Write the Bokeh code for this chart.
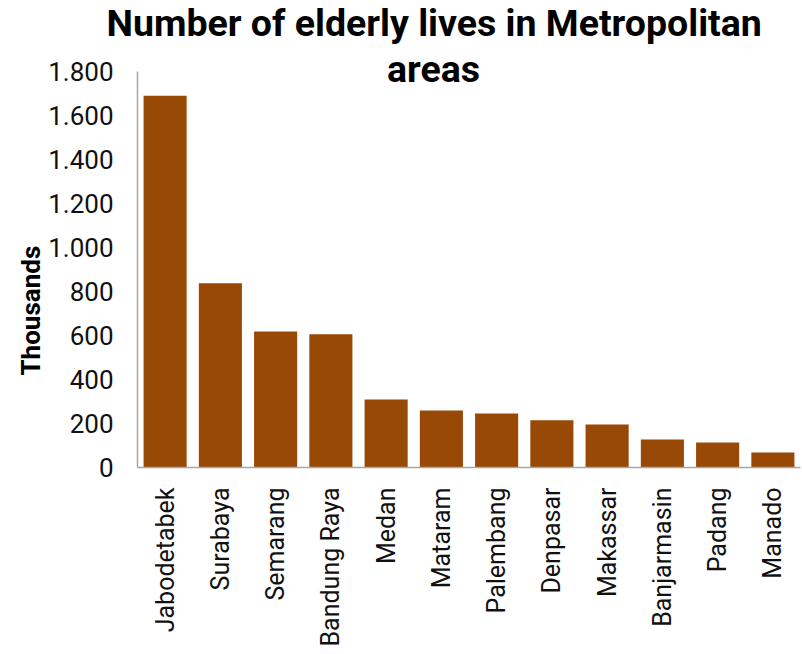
import math
from bokeh.plotting import figure
from bokeh.models import FactorRange, Range1d, FixedTicker, Label, Title
from bokeh.embed import file_html
from bokeh.resources import INLINE

cities = ["Jabodetabek", "Surabaya", "Semarang", "Bandung Raya", "Medan", "Mataram",
          "Palembang", "Denpasar", "Makassar", "Banjarmasin", "Padang", "Manado"]
elderly_thousands = [1690, 837, 618, 606, 309, 259, 246, 215, 195, 127, 114, 68]
y_ticks = [0, 200, 400, 600, 800, 1000, 1200, 1400, 1600, 1800]
y_tick_labels = ["0", "200", "400", "600", "800", "1.000", "1.200", "1.400", "1.600", "1.800"]
title_lines = ["Number of elderly lives in Metropolitan", "areas"]
y_label = "Thousands"

FONT = "Roboto"
BAR = "#994906"

W, H = 802, 654
BORDER_TOP = 46
BORDER_BOTTOM = 187
AXIS_BOTTOM = H - BORDER_BOTTOM      # canvas y of the x axis
FRAME_H = AXIS_BOTTOM - BORDER_TOP
AXIS_PX = 396                        # pixel length of the 0..1800 axis
y_top = y_ticks[-1] * FRAME_H / AXIS_PX

p = figure(width=W, height=H, output_backend="svg", toolbar_location=None,
           x_range=FactorRange(factors=cities, range_padding=0),
           y_range=Range1d(0, y_top),
           min_border_left=137, min_border_right=2, min_border_top=BORDER_TOP,
           min_border_bottom=BORDER_BOTTOM)
p.outline_line_color = None
p.background_fill_color = "white"
p.border_fill_color = "white"

p.vbar(x=cities, top=elderly_thousands, width=0.78, fill_color=BAR, line_color=None)

p.xgrid.visible = False
p.ygrid.visible = False

for ax in (p.xaxis[0], p.yaxis[0]):
    ax.axis_line_color = "#a6a6a6"
    ax.axis_line_width = 1.5
    ax.major_tick_line_color = None
    ax.minor_tick_line_color = None
    ax.major_tick_out = 0
    ax.major_tick_in = 0
    ax.major_label_text_font = FONT
    ax.major_label_text_color = "#111111"

p.yaxis.bounds = (y_ticks[0], y_ticks[-1])
p.yaxis.major_label_text_font_size = "26px"
p.xaxis.major_label_text_font_size = "25px"
p.yaxis.ticker = FixedTicker(ticks=y_ticks)
p.yaxis.major_label_overrides = {t: l for t, l in zip(y_ticks, y_tick_labels)}
p.yaxis.major_label_standoff = 24
p.xaxis.major_label_orientation = math.pi / 2
p.xaxis.major_label_standoff = 20

p.add_layout(Title(text=title_lines[0], align="left", offset=-31, vertical_align="top",
                   standoff=0, text_font=FONT, text_font_size="37.5px",
                   text_font_style="bold", text_color="#000000"), "above")
p.add_layout(Label(x=296, y=AXIS_BOTTOM - 68, x_units="screen", y_units="screen",
                   text=title_lines[1], text_align="center", text_baseline="middle",
                   text_font=FONT, text_font_size="37.5px", text_font_style="bold",
                   text_color="#000000"))

p.add_layout(Title(text=y_label, align="left", offset=92, standoff=0,
                   text_font=FONT, text_font_size="26px", text_font_style="bold",
                   text_color="#000000"), "left")

open("out.html", "w").write(file_html(p, INLINE))
